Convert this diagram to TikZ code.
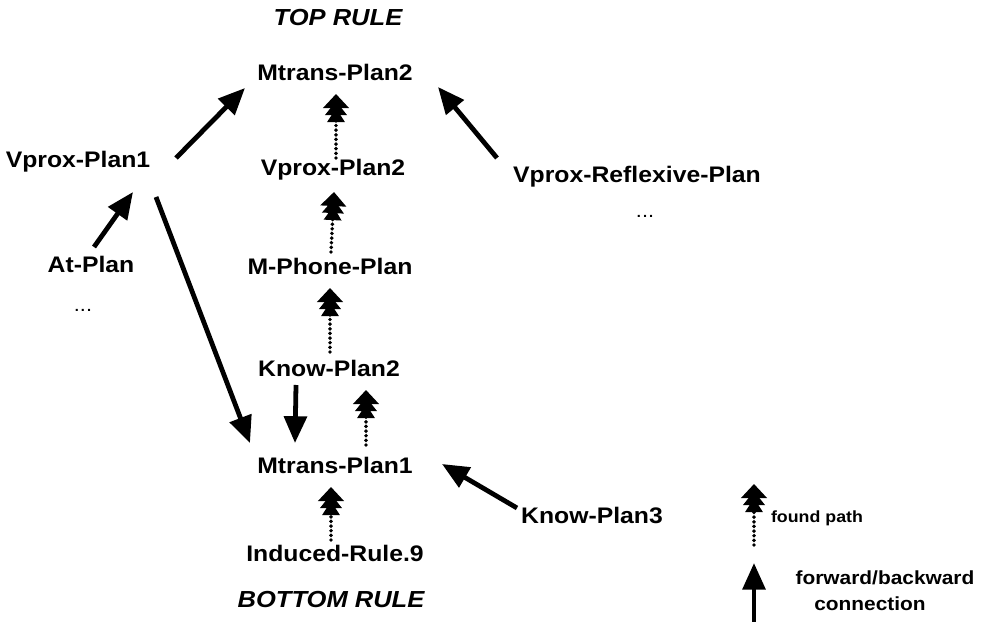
\documentclass[tikz,border=0pt]{standalone}
\usepackage{fontspec}
\setmainfont{Liberation Sans}[FakeStretch=1.1]
\usetikzlibrary{arrows.meta}
\begin{document}
\begin{tikzpicture}[x=0.025cm,y=-0.025cm,
  plan/.style={font=\bfseries\fontsize{16}{18}\selectfont, inner sep=0pt},
  rulelbl/.style={font=\bfseries\itshape\fontsize{16.5}{18}\selectfont, inner sep=0pt},
  more/.style={font=\fontsize{14}{16}\selectfont, inner sep=0pt},
  conn/.style={line width=3.4pt, -{Triangle[width=16pt,length=19pt]}},
  found/.style={line width=2.8pt, line cap=round, dash pattern=on 0pt off 3.3pt,
    -{Triangle[width=12pt,length=10pt,sep=-5pt] Triangle[width=15pt,length=10pt,sep=-5pt] Triangle[width=18pt,length=10pt]}},
  legend/.style={inner sep=0pt}]
\useasboundingbox (0,0) rectangle (981,622);

% plan nodes
\node[rulelbl] (top) at (338,18) {TOP RULE};
\node[plan] (mt2) at (335,72) {Mtrans-Plan2};
\node[plan] (vp1) at (78,162) {Vprox-Plan1};
\node[plan] (vp2) at (333,170) {Vprox-Plan2};
\node[plan] (vpr) at (637,177) {Vprox-Reflexive-Plan};
\node[more] (dotsr) at (645,216) {...};
\node[plan] (at) at (91,264) {At-Plan};
\node[more] (dotsl) at (83,310) {...};
\node[plan] (mpp) at (330,266) {M-Phone-Plan};
\node[plan] (kp2) at (329,368) {Know-Plan2};
\node[plan] (mt1) at (335,465) {Mtrans-Plan1};
\node[plan] (kp3) at (592,515) {Know-Plan3};
\node[plan] (ind) at (335,553) {Induced-Rule.9};
\node[rulelbl] (bottom) at (331,600) {BOTTOM RULE};

% forward/backward connections
\draw[conn] ([shift={(98,-4)}]vp1.center) -- ([shift={(-90,16)}]mt2.center);
\draw[conn] ([shift={(-140,-19)}]vpr.center) -- ([shift={(103,15)}]mt2.center);
\draw[conn] ([shift={(3,-17)}]at.center) -- ([shift={(55,30)}]vp1.center);
\draw[conn] ([shift={(78,35)}]vp1.center) -- ([shift={(-85,-22)}]mt1.center);
\draw[conn] ([shift={(-33,17)}]kp2.center) -- ([shift={(-40,-22)}]mt1.center);
\draw[conn] ([shift={(-75,-7)}]kp3.center) -- ([shift={(107,-1)}]mt1.center);

% found path
\draw[found] ([shift={(3,-12)}]vp2.center) -- ([shift={(1,22)}]mt2.center);
\draw[found] ([shift={(1,-14)}]mpp.center) -- ([shift={(1,22)}]vp2.center);
\draw[found] ([shift={(1,-16)}]kp2.center) -- ([shift={(0,22)}]mpp.center);
\draw[found] ([shift={(31,-20)}]mt1.center) -- ([shift={(37,22)}]kp2.center);
\draw[found] ([shift={(-4,-13)}]ind.center) -- ([shift={(-4,22)}]mt1.center);

% legend
\coordinate (lfa) at (754,545);
\coordinate (lfb) at (754,484);
\coordinate (lca) at (754,622);
\coordinate (lcb) at (754,563);
\draw[found] (lfa) -- (lfb);
\draw[conn] (lca) -- (lcb);
\node[legend, font=\bfseries\fontsize{11.5}{13}\selectfont] (lf) at (817,518) {found path};
\node[legend, font=\bfseries\fontsize{13.5}{15}\selectfont] (lc) at (885,578) {forward/backward};
\node[legend, font=\bfseries\fontsize{13.5}{15}\selectfont] (lc2) at (870,604) {connection};
\end{tikzpicture}
\end{document}
